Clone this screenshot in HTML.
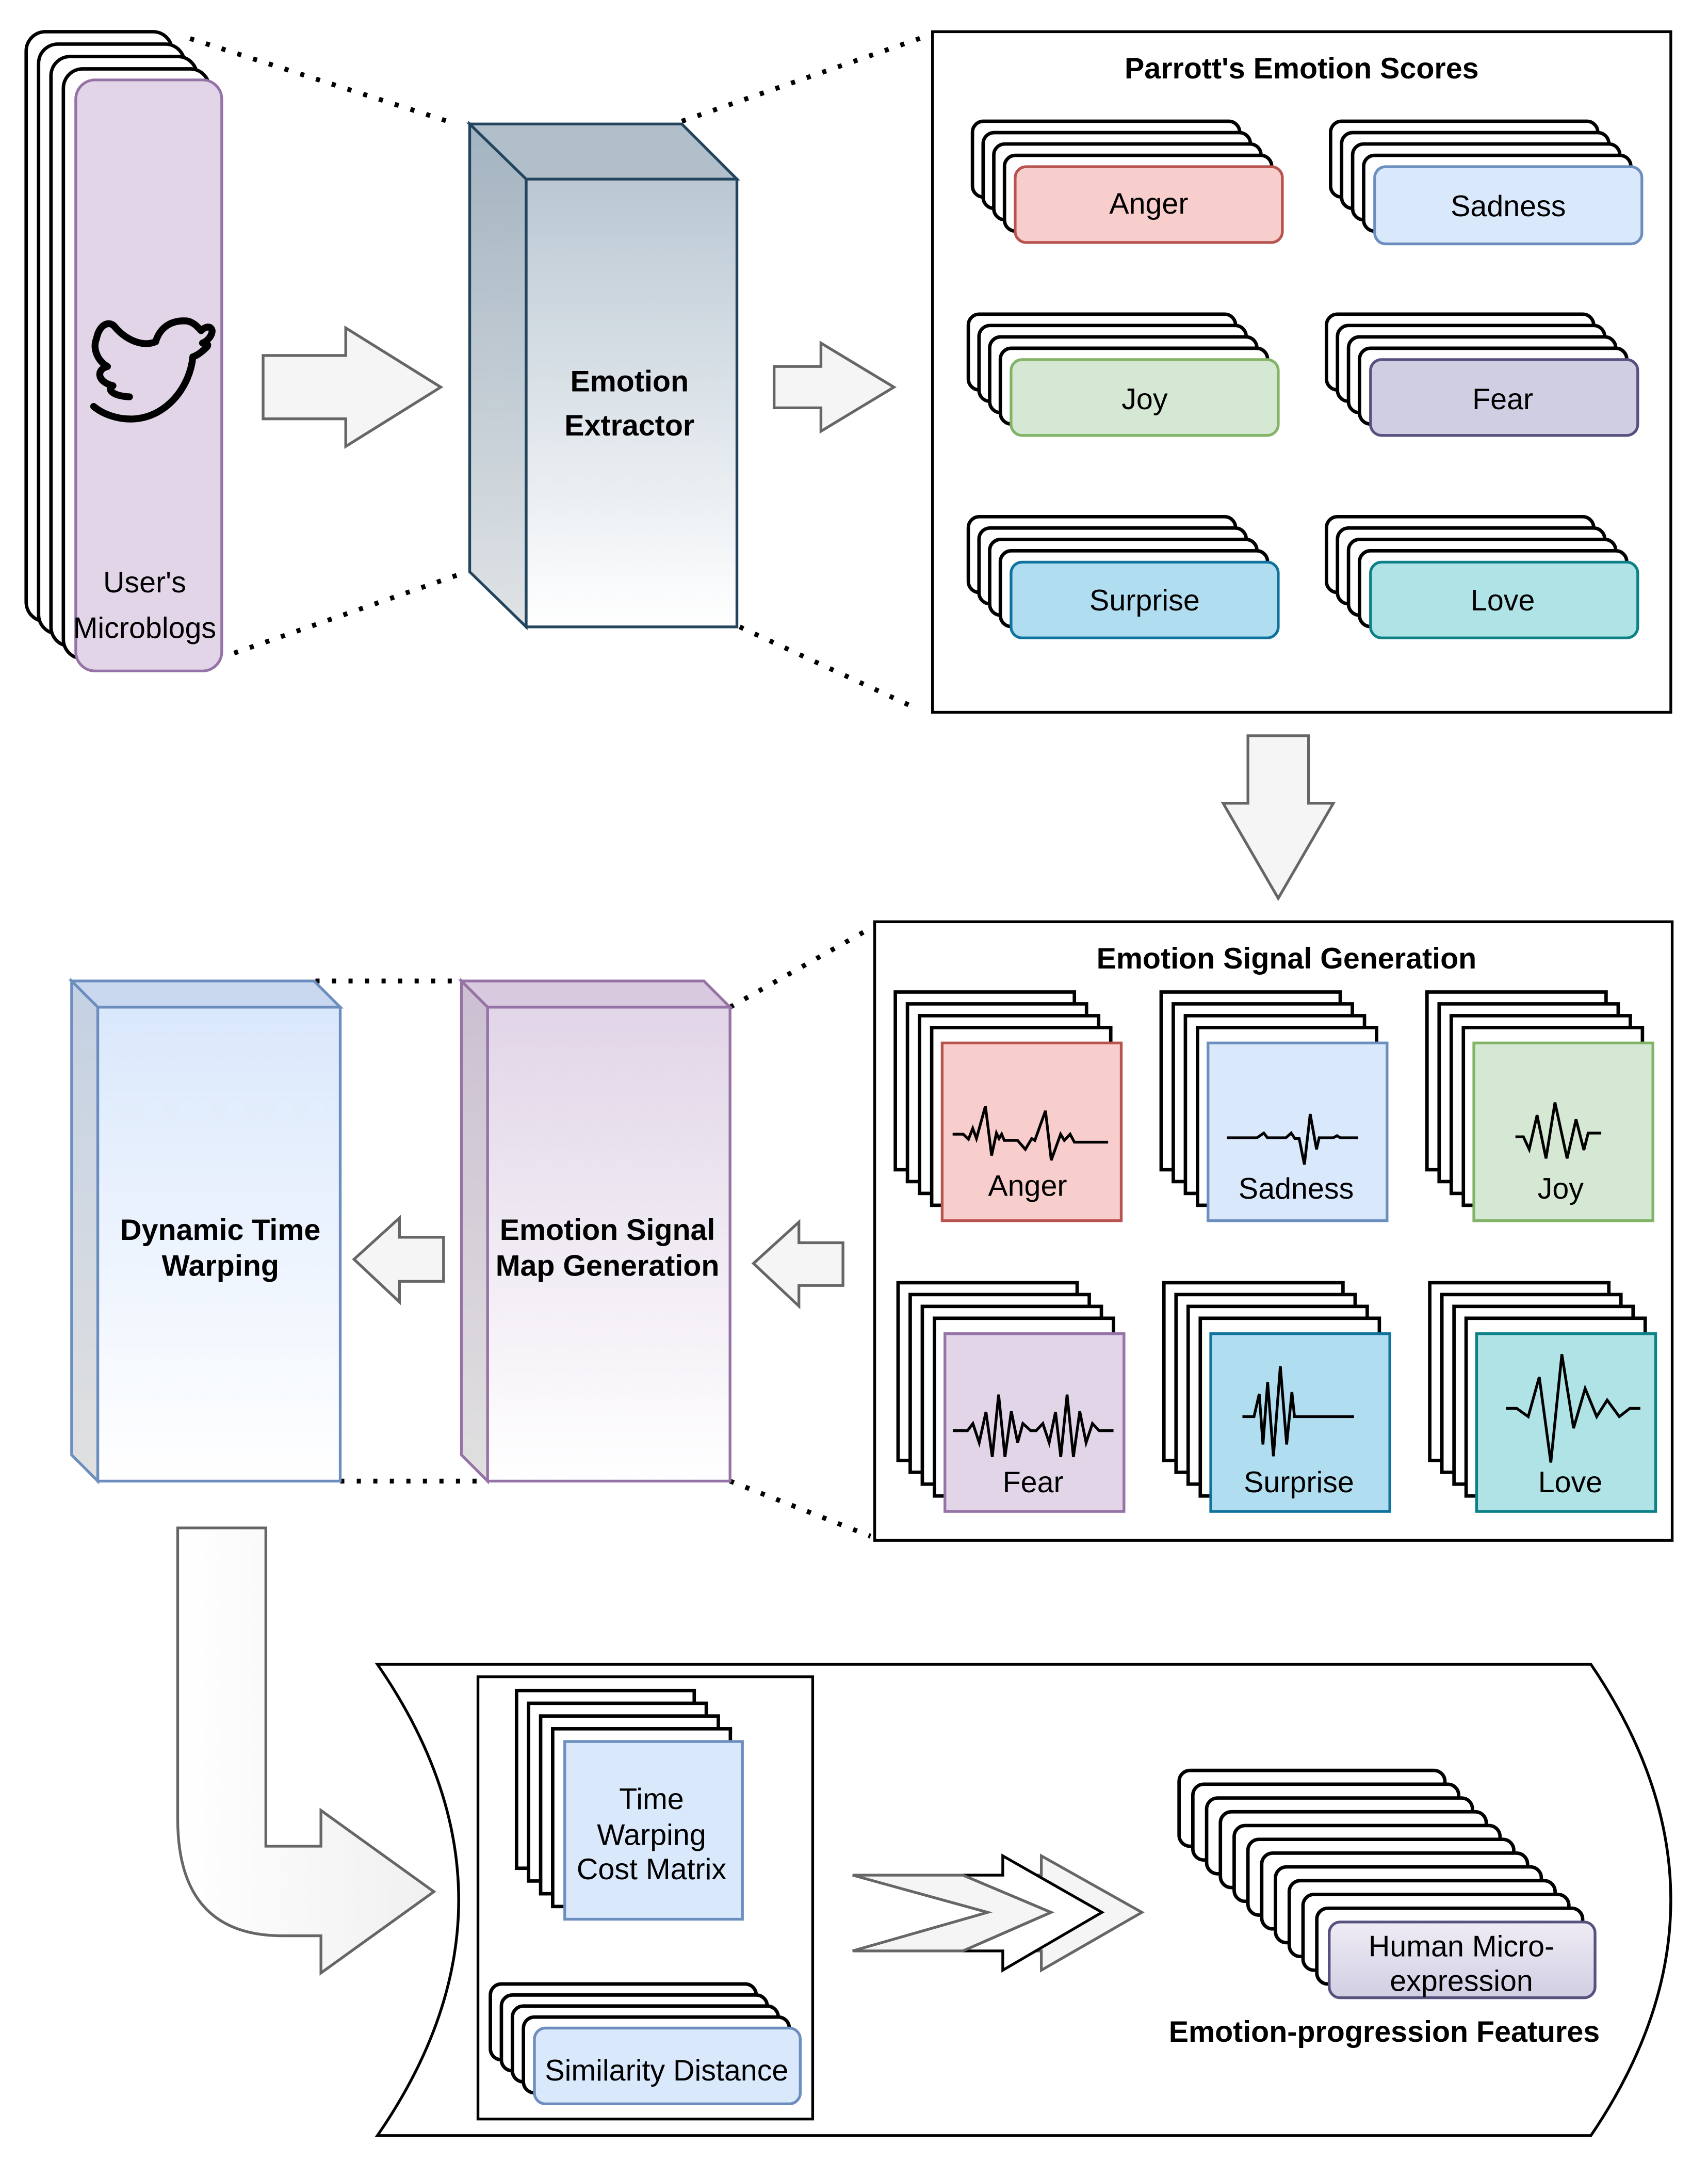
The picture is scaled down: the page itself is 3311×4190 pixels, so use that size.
<!DOCTYPE html>
<html><head><meta charset="utf-8"><style>html,body{margin:0;padding:0;background:#fff}svg{display:block}</style></head>
<body>
<svg xmlns="http://www.w3.org/2000/svg" width="3311" height="4190" viewBox="0 0 1240 1569.2" font-family="Liberation Sans, Arial, sans-serif">
<defs>
<linearGradient id="gEx" x1="0" y1="0" x2="0" y2="1"><stop offset="0" stop-color="#bac8d3"/><stop offset="1" stop-color="#ffffff"/></linearGradient>
<linearGradient id="gExS" x1="0" y1="0" x2="0" y2="1"><stop offset="0" stop-color="#a3b3c0"/><stop offset="1" stop-color="#dfe3e6"/></linearGradient>
<linearGradient id="gP" x1="0" y1="0" x2="0" y2="1"><stop offset="0" stop-color="#e1d5e7"/><stop offset="1" stop-color="#ffffff"/></linearGradient>
<linearGradient id="gPS" x1="0" y1="0" x2="0" y2="1"><stop offset="0" stop-color="#cbbfd1"/><stop offset="1" stop-color="#e0e0e0"/></linearGradient>
<linearGradient id="gB" x1="0" y1="0" x2="0" y2="1"><stop offset="0" stop-color="#dae8fc"/><stop offset="1" stop-color="#ffffff"/></linearGradient>
<linearGradient id="gBS" x1="0" y1="0" x2="0" y2="1"><stop offset="0" stop-color="#c4d1e3"/><stop offset="1" stop-color="#e0e0e0"/></linearGradient>
<linearGradient id="gGr" x1="0" y1="0" x2="1" y2="0"><stop offset="0" stop-color="#ffffff"/><stop offset="1" stop-color="#f0f0f0"/></linearGradient>
<linearGradient id="gH" x1="0" y1="0" x2="0" y2="1"><stop offset="0" stop-color="#f0ecf5"/><stop offset="1" stop-color="#d0cee2"/></linearGradient>
</defs>

<g stroke="#000" stroke-width="3.5" stroke-dasharray="3 9" fill="none">
<line x1="138" y1="28" x2="325" y2="88"/>
<line x1="170" y1="474" x2="336" y2="416"/>
<line x1="495" y1="88" x2="676" y2="25"/>
<line x1="537" y1="455" x2="667" y2="515"/>
<line x1="229" y1="712" x2="335" y2="712"/>
<line x1="247" y1="1075" x2="354" y2="1075"/>
<line x1="530" y1="731" x2="635" y2="672"/>
<line x1="530" y1="1075" x2="632" y2="1115"/>
</g>

<g stroke="#000" stroke-width="2.5" fill="#fff">
<rect x="19" y="23" width="106" height="428" rx="14"/>
<rect x="28" y="32" width="106" height="428" rx="14"/>
<rect x="37" y="41" width="106" height="428" rx="14"/>
<rect x="46" y="50" width="106" height="428" rx="14"/>
</g>
<rect x="55" y="58" width="106" height="429" rx="14" fill="#e1d5e7" stroke="#9673a6" stroke-width="2"/>
<path d="M70,246 C72,235 80,232 84,238 C92,247 104,252 113,248 C116,238 124,232 136,233 C141,234 144,238 146,240 C149,237 153,236 154,240 C154,244 150,248 147,249 C150,249 152,250 150,252 C146,256 143,258 140,259 C138,280 122,302 98,304 C85,305 74,300 68,295 M70,246 C67,253 71,262 78,266 C70,268 70,277 82,280 C76,284 86,288 94,288" fill="none" stroke="#000" stroke-width="5" stroke-linecap="round" stroke-linejoin="round"/>
<g font-size="21.5" text-anchor="middle" fill="#000">
<text x="105" y="430">User's</text>
<text x="105" y="463">Microblogs</text>
</g>

<g fill="#f5f5f5" stroke="#666" stroke-width="2">
<polygon points="191,258 251,258 251,238 320,281 251,324 251,304 191,304"/>
<polygon points="562,266 596,266 596,249 649,281 596,313 596,296 562,296"/>
<polygon points="906,534 950,534 950,583 968,583 928,652 888,583 906,583"/>
<polygon points="612,902 580,902 580,887 547,917 580,948 580,933 612,933"/>
<polygon points="322,898 290,898 290,884 257,914 290,945 290,930 322,930"/>
</g>

<g stroke="#23445d" stroke-width="2">
<polygon points="341,90 382,130 382,455 341,415" fill="url(#gExS)"/>
<polygon points="341,90 495,90 535,130 382,130" fill="#b0bfca"/>
<rect x="382" y="130" width="153" height="325" fill="url(#gEx)"/>
</g>
<g font-size="21.5" font-weight="bold" text-anchor="middle">
<text x="457" y="284">Emotion</text>
<text x="457" y="316">Extractor</text>
</g>

<rect x="677" y="23" width="536" height="494" fill="none" stroke="#000" stroke-width="2"/>
<text x="945" y="57" font-size="21.5" font-weight="bold" text-anchor="middle">Parrott's Emotion Scores</text>

<g font-size="21.5" text-anchor="middle">
<g transform="translate(706,88)">
<g stroke="#000" stroke-width="2.5" fill="#fff"><rect x="0" y="0" width="194" height="55" rx="8"/><rect x="7.75" y="8.25" width="194" height="55" rx="8"/><rect x="15.5" y="16.5" width="194" height="55" rx="8"/><rect x="23.25" y="24.75" width="194" height="55" rx="8"/></g>
<rect x="31" y="33" width="194" height="55" rx="8" fill="#f8cecc" stroke="#b85450" stroke-width="2"/>
<text x="128" y="67">Anger</text></g>
<g transform="translate(966,88)">
<g stroke="#000" stroke-width="2.5" fill="#fff"><rect x="0" y="0" width="194" height="55" rx="8"/><rect x="8" y="8.25" width="194" height="55" rx="8"/><rect x="16" y="16.5" width="194" height="55" rx="8"/><rect x="24" y="24.75" width="194" height="55" rx="8"/></g>
<rect x="32" y="33" width="194" height="56" rx="8" fill="#dae8fc" stroke="#6c8ebf" stroke-width="2"/>
<text x="129" y="69">Sadness</text></g>
<g transform="translate(703,228)">
<g stroke="#000" stroke-width="2.5" fill="#fff"><rect x="0" y="0" width="194" height="55" rx="8"/><rect x="7.75" y="8.25" width="194" height="55" rx="8"/><rect x="15.5" y="16.5" width="194" height="55" rx="8"/><rect x="23.25" y="24.75" width="194" height="55" rx="8"/></g>
<rect x="31" y="33" width="194" height="55" rx="8" fill="#d5e8d4" stroke="#82b366" stroke-width="2"/>
<text x="128" y="69">Joy</text></g>
<g transform="translate(963,228)">
<g stroke="#000" stroke-width="2.5" fill="#fff"><rect x="0" y="0" width="194" height="55" rx="8"/><rect x="8" y="8.25" width="194" height="55" rx="8"/><rect x="16" y="16.5" width="194" height="55" rx="8"/><rect x="24" y="24.75" width="194" height="55" rx="8"/></g>
<rect x="32" y="33" width="194" height="55" rx="8" fill="#d0cee2" stroke="#56517e" stroke-width="2"/>
<text x="128" y="69">Fear</text></g>
<g transform="translate(703,375)">
<g stroke="#000" stroke-width="2.5" fill="#fff"><rect x="0" y="0" width="194" height="55" rx="8"/><rect x="7.75" y="8.25" width="194" height="55" rx="8"/><rect x="15.5" y="16.5" width="194" height="55" rx="8"/><rect x="23.25" y="24.75" width="194" height="55" rx="8"/></g>
<rect x="31" y="33" width="194" height="55" rx="8" fill="#b1ddf0" stroke="#10739e" stroke-width="2"/>
<text x="128" y="68">Surprise</text></g>
<g transform="translate(963,375)">
<g stroke="#000" stroke-width="2.5" fill="#fff"><rect x="0" y="0" width="194" height="55" rx="8"/><rect x="8" y="8.25" width="194" height="55" rx="8"/><rect x="16" y="16.5" width="194" height="55" rx="8"/><rect x="24" y="24.75" width="194" height="55" rx="8"/></g>
<rect x="32" y="33" width="194" height="55" rx="8" fill="#b0e3e6" stroke="#0e8088" stroke-width="2"/>
<text x="128" y="68">Love</text></g>
</g>

<rect x="635" y="669" width="579" height="449" fill="none" stroke="#000" stroke-width="2"/>
<text x="934" y="703" font-size="21.5" font-weight="bold" text-anchor="middle">Emotion Signal Generation</text>

<g font-size="21.5" text-anchor="middle">
<g transform="translate(650,720)">
<g stroke="#000" stroke-width="2.5" fill="#fff"><rect x="0" y="0" width="130" height="129"/><rect x="8.8" y="8.6" width="130" height="129"/><rect x="17.6" y="17.2" width="130" height="129"/><rect x="26.4" y="25.8" width="130" height="129"/></g>
<g transform="translate(34,37)"><rect width="130" height="129" fill="#f8cecc" stroke="#b85450" stroke-width="2"/>
<polyline fill="none" stroke="#000" stroke-width="2" points="7.6,66.2 15.3,66.2 19.1,69.9 22.2,62 24.9,69.4 31.4,45.8 35.9,81.7 39.4,65.4 41.3,69.4 43.2,66.2 45.1,70.7 54.7,70.7 60.4,77.2 65,69.4 67.3,70.7 75,49.2 79.2,85.1 86,66.2 88.7,70.7 92.9,66.2 96,72 120.5,72"/>
<text x="62" y="111">Anger</text></g></g>
<g transform="translate(843,720)">
<g stroke="#000" stroke-width="2.5" fill="#fff"><rect x="0" y="0" width="130" height="129"/><rect x="8.8" y="8.6" width="130" height="129"/><rect x="17.6" y="17.2" width="130" height="129"/><rect x="26.4" y="25.8" width="130" height="129"/></g>
<g transform="translate(34,37)"><rect width="130" height="129" fill="#dae8fc" stroke="#6c8ebf" stroke-width="2"/>
<polyline fill="none" stroke="#000" stroke-width="2" points="13.8,68.8 35.6,68.8 40.5,65.4 43.2,68.8 56.6,68.8 60.4,65.4 63.1,69.4 66.2,69.4 70,88.2 74.2,51.6 78.8,77.2 80.7,68.8 91,68.8 93.7,67.3 96,68.8 109,68.8"/>
<text x="64" y="113">Sadness</text></g></g>
<g transform="translate(1036,720)">
<g stroke="#000" stroke-width="2.5" fill="#fff"><rect x="0" y="0" width="130" height="129"/><rect x="8.8" y="8.6" width="130" height="129"/><rect x="17.6" y="17.2" width="130" height="129"/><rect x="26.4" y="25.8" width="130" height="129"/></g>
<g transform="translate(34,37)"><rect width="130" height="129" fill="#d5e8d4" stroke="#82b366" stroke-width="2"/>
<polyline fill="none" stroke="#000" stroke-width="2" points="30.2,68.1 36,68.1 40.2,77.2 45.9,52.4 52.4,83.8 58.9,43.2 67.7,83.8 74.2,55.5 79.9,77.7 83,65.4 92.5,65.4"/>
<text x="63" y="113">Joy</text></g></g>
<g transform="translate(652,931)">
<g stroke="#000" stroke-width="2.5" fill="#fff"><rect x="0" y="0" width="130" height="129"/><rect x="8.8" y="8.6" width="130" height="129"/><rect x="17.6" y="17.2" width="130" height="129"/><rect x="26.4" y="25.8" width="130" height="129"/></g>
<g transform="translate(34,37)"><rect width="130" height="129" fill="#e1d5e7" stroke="#9673a6" stroke-width="2"/>
<polyline fill="none" stroke="#000" stroke-width="2" points="5.7,70.4 16.4,70.4 20.3,65.2 24.9,79.1 29.8,56.8 34.4,89.5 39,44.2 43.6,89.5 48.2,56.3 52.8,79.1 56.6,65.2 62.3,70.4 66.2,70.4 71.1,65.2 75.7,79.1 80.3,56.8 84.1,89.5 88.7,44.2 93.3,89.5 97.9,56.3 102.5,79.1 107.1,65.2 112,70.4 122.4,70.4"/>
<text x="64" y="115">Fear</text></g></g>
<g transform="translate(845,931)">
<g stroke="#000" stroke-width="2.5" fill="#fff"><rect x="0" y="0" width="130" height="129"/><rect x="8.8" y="8.6" width="130" height="129"/><rect x="17.6" y="17.2" width="130" height="129"/><rect x="26.4" y="25.8" width="130" height="129"/></g>
<g transform="translate(34,37)"><rect width="130" height="129" fill="#b1ddf0" stroke="#10739e" stroke-width="2"/>
<polyline fill="none" stroke="#000" stroke-width="2" points="23,60.2 31.4,60.2 35.2,43.7 37.9,80.4 41.3,35.1 45.5,89 50.5,23.6 55.1,80.4 58.9,42.4 60.8,60.2 104,60.2"/>
<text x="64" y="115">Surprise</text></g></g>
<g transform="translate(1038,931)">
<g stroke="#000" stroke-width="2.5" fill="#fff"><rect x="0" y="0" width="130" height="129"/><rect x="8.8" y="8.6" width="130" height="129"/><rect x="17.6" y="17.2" width="130" height="129"/><rect x="26.4" y="25.8" width="130" height="129"/></g>
<g transform="translate(34,37)"><rect width="130" height="129" fill="#b0e3e6" stroke="#0e8088" stroke-width="2"/>
<polyline fill="none" stroke="#000" stroke-width="2" points="21.4,54.2 29.1,54.2 37.5,60.2 45.5,31.4 53.9,93.5 61.9,14.9 70.4,68.6 78.8,39.8 87.2,60.2 94.8,48.2 103.6,60.2 111.3,54.2 118.9,54.2"/>
<text x="68" y="115">Love</text></g></g>
</g>

<g stroke="#9673a6" stroke-width="2">
<polygon points="335,712 354,731 354,1075 335,1056" fill="url(#gPS)"/>
<polygon points="335,712 511,712 530,731 354,731" fill="#d8c9df"/>
<rect x="354" y="731" width="176" height="344" fill="url(#gP)"/>
</g>
<g font-size="21.5" font-weight="bold" text-anchor="middle">
<text x="441" y="900">Emotion Signal</text>
<text x="441" y="926">Map Generation</text>
</g>

<g stroke="#6c8ebf" stroke-width="2">
<polygon points="52,712 71,731 71,1075 52,1056" fill="url(#gBS)"/>
<polygon points="52,712 228,712 247,731 71,731" fill="#c9d8ee"/>
<rect x="71" y="731" width="176" height="344" fill="url(#gB)"/>
</g>
<g font-size="21.5" font-weight="bold" text-anchor="middle">
<text x="160" y="900">Dynamic Time</text>
<text x="160" y="926">Warping</text>
</g>

<path d="M129,1109 L193,1109 L193,1340 L233,1340 L233,1314 L315,1373 L233,1432 L233,1405 L205,1405 Q129,1405 129,1320 Z" fill="url(#gGr)" stroke="#666" stroke-width="2"/>

<path d="M274,1208 L1155,1208 Q1271,1379 1155,1550 L274,1550 Q392,1379 274,1208 Z" fill="#fff" stroke="#000" stroke-width="2"/>
<rect x="347" y="1217" width="243" height="321" fill="none" stroke="#000" stroke-width="2"/>

<g font-size="21.5" text-anchor="middle">
<g transform="translate(375,1227)">
<g stroke="#000" stroke-width="2.5" fill="#fff"><rect x="0" y="0" width="129" height="129"/><rect x="8.75" y="9.25" width="129" height="129"/><rect x="17.5" y="18.5" width="129" height="129"/><rect x="26.25" y="27.75" width="129" height="129"/></g>
<rect x="35" y="37" width="129" height="129" fill="#dae8fc" stroke="#6c8ebf" stroke-width="2"/>
<text x="98" y="86">Time</text><text x="98" y="112">Warping</text><text x="98" y="137">Cost Matrix</text></g>
<g transform="translate(356,1440)">
<g stroke="#000" stroke-width="2.5" fill="#fff"><rect x="0" y="0" width="193" height="55" rx="8"/><rect x="8" y="8" width="193" height="55" rx="8"/><rect x="16" y="16" width="193" height="55" rx="8"/><rect x="24" y="24" width="193" height="55" rx="8"/></g>
<rect x="32" y="32" width="193" height="55" rx="8" fill="#dae8fc" stroke="#6c8ebf" stroke-width="2"/>
<text x="128" y="70">Similarity Distance</text></g>
</g>

<polygon points="756,1347 829,1388 756,1430 756,1416 740,1416 740,1361 756,1361" fill="#f5f5f5" stroke="#666" stroke-width="2"/>
<polygon points="699,1361 728,1361 728,1347 800,1388 728,1430 728,1416 699,1416 763,1388" fill="#fff" stroke="#000" stroke-width="2"/>
<polygon points="619,1361 699,1361 763,1388 699,1416 619,1416 717,1388" fill="#f5f5f5" stroke="#666" stroke-width="2"/>

<g stroke="#000" stroke-width="2.5" fill="#fff">
<rect x="856" y="1285" width="193" height="55" rx="8"/>
<rect x="866" y="1295" width="193" height="55" rx="8"/>
<rect x="876" y="1305" width="193" height="55" rx="8"/>
<rect x="886" y="1315" width="193" height="55" rx="8"/>
<rect x="896" y="1325" width="193" height="55" rx="8"/>
<rect x="906" y="1335" width="193" height="55" rx="8"/>
<rect x="916" y="1345" width="193" height="55" rx="8"/>
<rect x="926" y="1355" width="193" height="55" rx="8"/>
<rect x="936" y="1365" width="193" height="55" rx="8"/>
<rect x="946" y="1375" width="193" height="55" rx="8"/>
<rect x="956" y="1385" width="193" height="55" rx="8"/>
</g>
<rect x="965" y="1395" width="193" height="55" rx="8" fill="url(#gH)" stroke="#56517e" stroke-width="2"/>
<g font-size="21.5" text-anchor="middle">
<text x="1061" y="1420">Human Micro-</text>
<text x="1061" y="1445">expression</text>
</g>
<text x="1005" y="1482" font-size="21.5" font-weight="bold" text-anchor="middle">Emotion-progression Features</text>
</svg>
</body></html>
